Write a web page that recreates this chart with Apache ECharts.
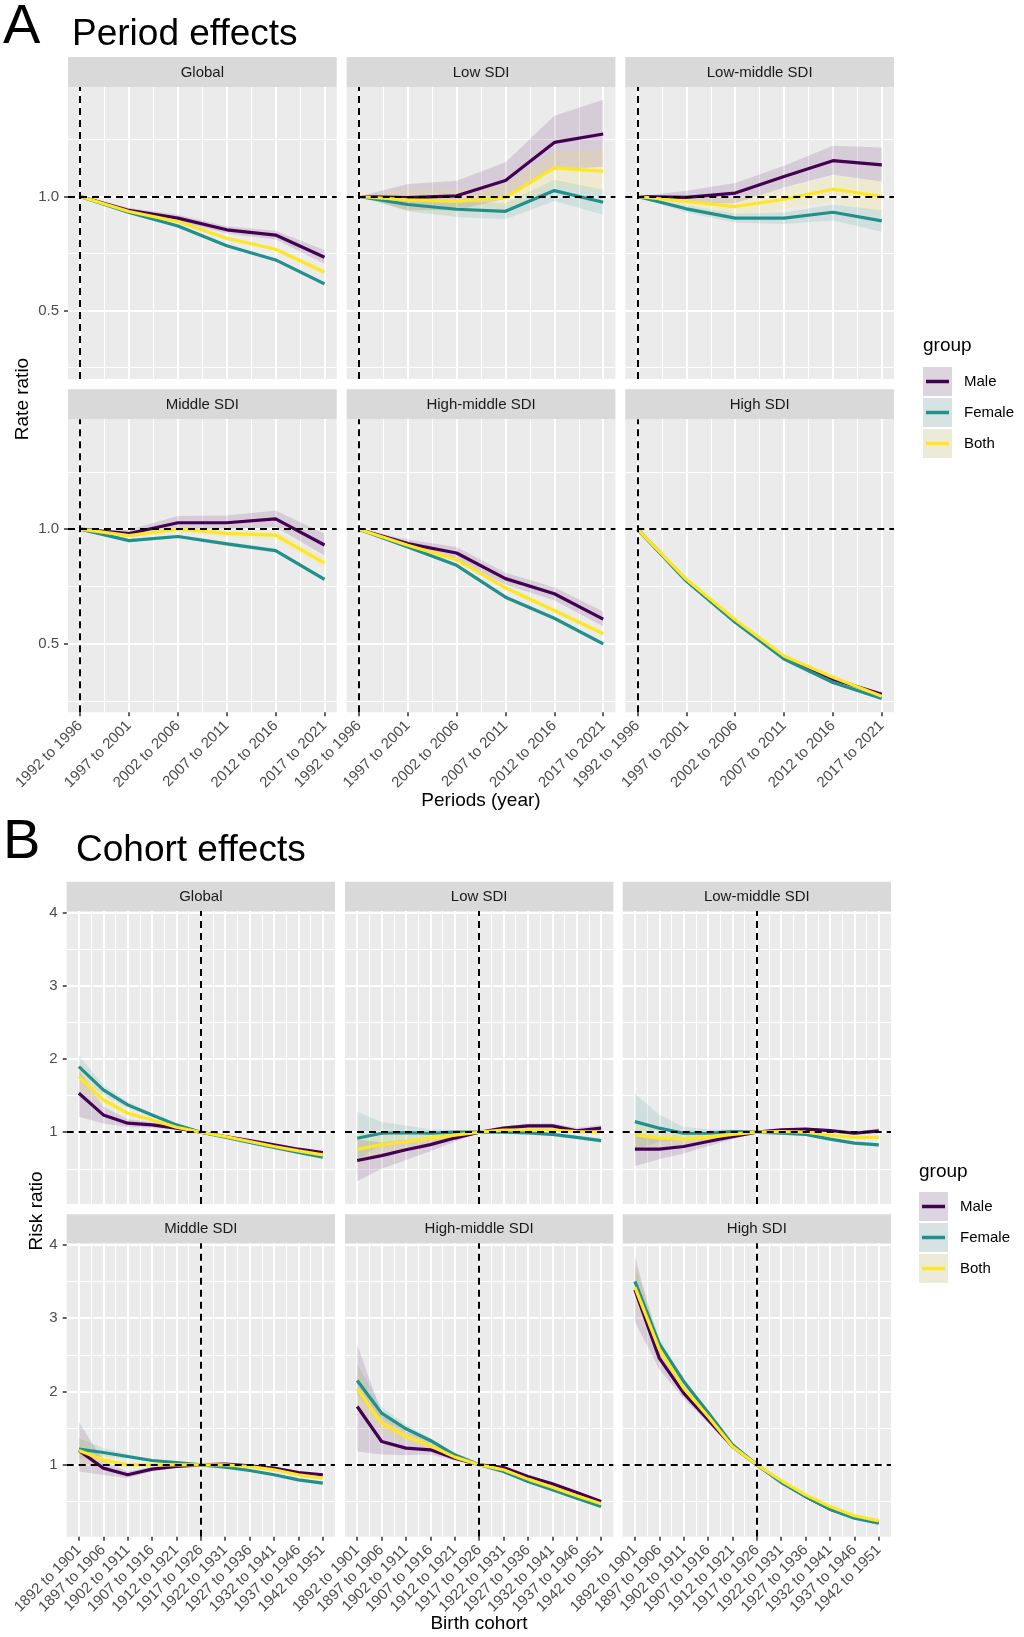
<!DOCTYPE html>
<html><head><meta charset="utf-8">
<script src="https://cdn.jsdelivr.net/npm/echarts@6/dist/echarts.min.js"></script>
<style>html,body{margin:0;padding:0;background:#fff;} #c{width:1024px;height:1637px;}</style>
</head><body><div id="c"></div>
<script>
// ---------- categories ----------
const periods = ['1992 to 1996','1997 to 2001','2002 to 2006','2007 to 2011','2012 to 2016','2017 to 2021'];
const cohorts = ['1892 to 1901','1897 to 1906','1902 to 1911','1907 to 1916','1912 to 1921','1917 to 1926',
                 '1922 to 1931','1927 to 1936','1932 to 1941','1937 to 1946','1942 to 1951'];
const panelNames = ['Global','Low SDI','Low-middle SDI','Middle SDI','High-middle SDI','High SDI'];
const groupNames = ['Male','Female','Both'];
const periodTickLabels = ['0.5','1.0'];
const cohortTickLabels = ['1','2','3','4'];

// ---------- Period effects (rate ratio) ----------
const p_Global_Male      = [1.0, 0.939, 0.905, 0.854, 0.831, 0.734];
const p_Global_Male_lo   = [1.0, 0.927, 0.890, 0.838, 0.812, 0.705];
const p_Global_Male_hi   = [1.0, 0.951, 0.920, 0.870, 0.850, 0.765];
const p_Global_Female    = [1.0, 0.930, 0.871, 0.784, 0.722, 0.617];
const p_Global_Female_lo = [1.0, 0.925, 0.865, 0.778, 0.715, 0.608];
const p_Global_Female_hi = [1.0, 0.935, 0.877, 0.790, 0.729, 0.626];
const p_Global_Both      = [1.0, 0.934, 0.890, 0.817, 0.769, 0.668];
const p_Global_Both_lo   = [1.0, 0.928, 0.883, 0.809, 0.760, 0.655];
const p_Global_Both_hi   = [1.0, 0.940, 0.897, 0.825, 0.778, 0.681];

const p_Low_Male      = [1.0, 0.995, 1.003, 1.070, 1.237, 1.274];
const p_Low_Male_lo   = [1.0, 0.940, 0.940, 0.990, 1.120, 1.130];
const p_Low_Male_hi   = [1.0, 1.055, 1.069, 1.150, 1.354, 1.424];
const p_Low_Female    = [1.0, 0.965, 0.944, 0.935, 1.026, 0.975];
const p_Low_Female_lo = [1.0, 0.935, 0.910, 0.900, 0.980, 0.920];
const p_Low_Female_hi = [1.0, 0.995, 0.978, 0.970, 1.073, 1.030];
const p_Low_Both      = [1.0, 0.985, 0.978, 0.995, 1.125, 1.111];
const p_Low_Both_lo   = [1.0, 0.935, 0.925, 0.935, 1.050, 1.020];
const p_Low_Both_hi   = [1.0, 1.035, 1.030, 1.055, 1.200, 1.200];

const p_LowMid_Male      = [1.0, 0.996, 1.015, 1.088, 1.157, 1.139];
const p_LowMid_Male_lo   = [1.0, 0.970, 0.970, 1.040, 1.095, 1.066];
const p_LowMid_Male_hi   = [1.0, 1.025, 1.059, 1.135, 1.222, 1.215];
const p_LowMid_Female    = [1.0, 0.946, 0.905, 0.905, 0.931, 0.893];
const p_LowMid_Female_lo = [1.0, 0.930, 0.885, 0.880, 0.895, 0.845];
const p_LowMid_Female_hi = [1.0, 0.962, 0.925, 0.930, 0.965, 0.940];
const p_LowMid_Both      = [1.0, 0.978, 0.956, 0.988, 1.032, 1.000];
const p_LowMid_Both_lo   = [1.0, 0.955, 0.920, 0.945, 0.975, 0.930];
const p_LowMid_Both_hi   = [1.0, 1.000, 0.995, 1.035, 1.090, 1.070];

const p_Mid_Male      = [1.0, 0.981, 1.028, 1.028, 1.045, 0.931];
const p_Mid_Male_lo   = [1.0, 0.965, 1.000, 0.998, 1.010, 0.885];
const p_Mid_Male_hi   = [1.0, 0.997, 1.058, 1.060, 1.082, 0.980];
const p_Mid_Female    = [1.0, 0.950, 0.968, 0.936, 0.906, 0.781];
const p_Mid_Female_lo = [1.0, 0.943, 0.960, 0.928, 0.897, 0.772];
const p_Mid_Female_hi = [1.0, 0.957, 0.976, 0.944, 0.915, 0.790];
const p_Mid_Both      = [1.0, 0.972, 1.000, 0.982, 0.974, 0.852];
const p_Mid_Both_lo   = [1.0, 0.962, 0.985, 0.965, 0.955, 0.830];
const p_Mid_Both_hi   = [1.0, 0.982, 1.015, 0.999, 0.993, 0.875];

const p_HighMid_Male      = [1.0, 0.937, 0.896, 0.784, 0.718, 0.607];
const p_HighMid_Male_lo   = [1.0, 0.920, 0.870, 0.757, 0.690, 0.575];
const p_HighMid_Male_hi   = [1.0, 0.955, 0.922, 0.810, 0.746, 0.640];
const p_HighMid_Female    = [1.0, 0.922, 0.842, 0.703, 0.611, 0.499];
const p_HighMid_Female_lo = [1.0, 0.916, 0.835, 0.695, 0.603, 0.490];
const p_HighMid_Female_hi = [1.0, 0.928, 0.849, 0.711, 0.619, 0.508];
const p_HighMid_Both      = [1.0, 0.930, 0.867, 0.744, 0.645, 0.543];
const p_HighMid_Both_lo   = [1.0, 0.922, 0.857, 0.733, 0.633, 0.530];
const p_HighMid_Both_hi   = [1.0, 0.938, 0.877, 0.755, 0.657, 0.556];

const p_High_Male      = [1.0, 0.776, 0.596, 0.440, 0.345, 0.279];
const p_High_Male_lo   = [1.0, 0.771, 0.591, 0.435, 0.340, 0.274];
const p_High_Male_hi   = [1.0, 0.781, 0.601, 0.445, 0.350, 0.284];
const p_High_Female    = [1.0, 0.773, 0.593, 0.433, 0.330, 0.260];
const p_High_Female_lo = [1.0, 0.769, 0.589, 0.429, 0.326, 0.256];
const p_High_Female_hi = [1.0, 0.777, 0.597, 0.437, 0.334, 0.264];
const p_High_Both      = [1.0, 0.781, 0.604, 0.446, 0.353, 0.270];
const p_High_Both_lo   = [1.0, 0.777, 0.600, 0.442, 0.349, 0.266];
const p_High_Both_hi   = [1.0, 0.785, 0.608, 0.450, 0.357, 0.274];

// ---------- Cohort effects (risk ratio) ----------
const c_Global_Male      = [1.532, 1.236, 1.123, 1.100, 1.055, 1.0, 0.941, 0.886, 0.827, 0.768, 0.723];
const c_Global_Male_lo   = [1.210, 1.120, 1.070, 1.065, 1.035, 1.0, 0.930, 0.873, 0.812, 0.752, 0.705];
const c_Global_Male_hi   = [1.850, 1.350, 1.180, 1.135, 1.075, 1.0, 0.952, 0.899, 0.842, 0.784, 0.741];
const c_Global_Female    = [1.895, 1.577, 1.373, 1.236, 1.100, 1.0, 0.932, 0.859, 0.791, 0.723, 0.659];
const c_Global_Female_lo = [1.740, 1.510, 1.330, 1.210, 1.085, 1.0, 0.925, 0.851, 0.782, 0.713, 0.648];
const c_Global_Female_hi = [2.050, 1.645, 1.415, 1.262, 1.115, 1.0, 0.939, 0.867, 0.800, 0.733, 0.670];
const c_Global_Both      = [1.759, 1.441, 1.259, 1.168, 1.068, 1.0, 0.941, 0.873, 0.805, 0.745, 0.691];
const c_Global_Both_lo   = [1.550, 1.360, 1.220, 1.145, 1.055, 1.0, 0.935, 0.866, 0.797, 0.736, 0.681];
const c_Global_Both_hi   = [1.970, 1.520, 1.300, 1.190, 1.081, 1.0, 0.947, 0.880, 0.813, 0.754, 0.701];

const c_Low_Male      = [0.614, 0.680, 0.760, 0.830, 0.920, 1.0, 1.055, 1.086, 1.086, 1.020, 1.055];
const c_Low_Male_lo   = [0.330, 0.500, 0.620, 0.740, 0.870, 1.0, 1.030, 1.055, 1.050, 0.980, 1.010];
const c_Low_Male_hi   = [0.900, 0.860, 0.900, 0.920, 0.970, 1.0, 1.080, 1.117, 1.122, 1.060, 1.100];
const c_Low_Female    = [0.918, 0.986, 0.995, 0.986, 1.000, 1.0, 1.000, 0.990, 0.970, 0.930, 0.886];
const c_Low_Female_lo = [0.620, 0.840, 0.900, 0.930, 0.970, 1.0, 0.985, 0.970, 0.948, 0.905, 0.858];
const c_Low_Female_hi = [1.280, 1.140, 1.090, 1.040, 1.030, 1.0, 1.015, 1.010, 0.992, 0.955, 0.914];
const c_Low_Both      = [0.768, 0.830, 0.870, 0.920, 0.960, 1.0, 1.030, 1.030, 1.030, 1.010, 1.000];
const c_Low_Both_lo   = [0.550, 0.700, 0.790, 0.870, 0.935, 1.0, 1.015, 1.010, 1.005, 0.980, 0.965];
const c_Low_Both_hi   = [0.990, 0.960, 0.950, 0.970, 0.985, 1.0, 1.045, 1.050, 1.055, 1.040, 1.035];

const c_LowMid_Male      = [0.768, 0.768, 0.805, 0.873, 0.940, 1.0, 1.032, 1.041, 1.023, 0.986, 1.018];
const c_LowMid_Male_lo   = [0.540, 0.630, 0.710, 0.810, 0.905, 1.0, 1.015, 1.020, 0.998, 0.958, 0.985];
const c_LowMid_Male_hi   = [1.000, 0.910, 0.900, 0.935, 0.975, 1.0, 1.049, 1.062, 1.048, 1.014, 1.051];
const c_LowMid_Female    = [1.145, 1.055, 0.986, 0.986, 1.010, 1.0, 0.986, 0.970, 0.905, 0.850, 0.827];
const c_LowMid_Female_lo = [0.760, 0.870, 0.900, 0.930, 0.980, 1.0, 0.975, 0.955, 0.888, 0.830, 0.805];
const c_LowMid_Female_hi = [1.530, 1.240, 1.070, 1.040, 1.040, 1.0, 0.997, 0.985, 0.922, 0.870, 0.849];
const c_LowMid_Both      = [0.964, 0.918, 0.905, 0.930, 0.970, 1.0, 1.010, 1.000, 0.960, 0.930, 0.930];
const c_LowMid_Both_lo   = [0.760, 0.810, 0.840, 0.890, 0.950, 1.0, 0.998, 0.985, 0.942, 0.910, 0.908];
const c_LowMid_Both_hi   = [1.170, 1.030, 0.970, 0.970, 0.990, 1.0, 1.022, 1.015, 0.978, 0.950, 0.952];

const c_Mid_Male      = [1.195, 0.955, 0.864, 0.941, 0.977, 1.0, 1.010, 0.986, 0.955, 0.895, 0.864];
const c_Mid_Male_lo   = [0.910, 0.860, 0.820, 0.910, 0.960, 1.0, 1.000, 0.975, 0.942, 0.880, 0.847];
const c_Mid_Male_hi   = [1.580, 1.060, 0.910, 0.970, 0.994, 1.0, 1.020, 0.997, 0.968, 0.910, 0.881];
const c_Mid_Female    = [1.214, 1.168, 1.114, 1.059, 1.032, 1.0, 0.968, 0.923, 0.864, 0.795, 0.750];
const c_Mid_Female_lo = [1.080, 1.110, 1.085, 1.040, 1.020, 1.0, 0.962, 0.916, 0.856, 0.786, 0.740];
const c_Mid_Female_hi = [1.360, 1.230, 1.145, 1.078, 1.044, 1.0, 0.974, 0.930, 0.872, 0.804, 0.760];
const c_Mid_Both      = [1.195, 1.068, 1.000, 1.000, 1.000, 1.0, 1.000, 0.977, 0.932, 0.864, 0.818];
const c_Mid_Both_lo   = [1.000, 1.000, 0.970, 0.980, 0.990, 1.0, 0.994, 0.970, 0.924, 0.855, 0.808];
const c_Mid_Both_hi   = [1.390, 1.140, 1.030, 1.020, 1.010, 1.0, 1.006, 0.984, 0.940, 0.873, 0.828];

const c_HighMid_Male      = [1.795, 1.318, 1.227, 1.205, 1.091, 1.0, 0.964, 0.841, 0.741, 0.623, 0.500];
const c_HighMid_Male_lo   = [1.180, 1.140, 1.130, 1.140, 1.060, 1.0, 0.952, 0.828, 0.727, 0.608, 0.485];
const c_HighMid_Male_hi   = [2.640, 1.700, 1.450, 1.320, 1.130, 1.0, 0.976, 0.854, 0.755, 0.638, 0.515];
const c_HighMid_Female    = [2.150, 1.705, 1.491, 1.332, 1.136, 1.0, 0.909, 0.773, 0.659, 0.545, 0.432];
const c_HighMid_Female_lo = [1.950, 1.620, 1.440, 1.300, 1.120, 1.0, 0.903, 0.766, 0.652, 0.537, 0.424];
const c_HighMid_Female_hi = [2.370, 1.790, 1.545, 1.365, 1.152, 1.0, 0.915, 0.780, 0.666, 0.553, 0.440];
const c_HighMid_Both      = [2.036, 1.568, 1.386, 1.259, 1.105, 1.0, 0.932, 0.805, 0.695, 0.577, 0.468];
const c_HighMid_Both_lo   = [1.780, 1.450, 1.320, 1.220, 1.085, 1.0, 0.926, 0.798, 0.688, 0.569, 0.460];
const c_HighMid_Both_hi   = [2.330, 1.690, 1.460, 1.300, 1.125, 1.0, 0.938, 0.812, 0.702, 0.585, 0.476];

const c_High_Male      = [3.386, 2.455, 1.977, 1.614, 1.250, 1.0, 0.773, 0.568, 0.395, 0.286, 0.218];
const c_High_Male_lo   = [2.950, 2.300, 1.900, 1.570, 1.230, 1.0, 0.765, 0.561, 0.390, 0.281, 0.213];
const c_High_Male_hi   = [3.850, 2.620, 2.060, 1.660, 1.270, 1.0, 0.781, 0.575, 0.400, 0.291, 0.223];
const c_High_Female    = [3.500, 2.650, 2.136, 1.714, 1.273, 1.0, 0.759, 0.568, 0.395, 0.273, 0.205];
const c_High_Female_lo = [3.300, 2.570, 2.090, 1.690, 1.260, 1.0, 0.754, 0.563, 0.391, 0.269, 0.201];
const c_High_Female_hi = [3.710, 2.730, 2.180, 1.740, 1.286, 1.0, 0.764, 0.573, 0.399, 0.277, 0.209];
const c_High_Both      = [3.423, 2.577, 2.045, 1.659, 1.250, 1.0, 0.786, 0.590, 0.432, 0.305, 0.236];
const c_High_Both_lo   = [3.150, 2.480, 2.000, 1.630, 1.235, 1.0, 0.781, 0.585, 0.428, 0.301, 0.232];
const c_High_Both_hi   = [3.720, 2.680, 2.090, 1.690, 1.265, 1.0, 0.791, 0.595, 0.436, 0.309, 0.240];

// ---------- lookup tables built from the arrays ----------
const periodSets = [
  {Male:[p_Global_Male,p_Global_Male_lo,p_Global_Male_hi],Female:[p_Global_Female,p_Global_Female_lo,p_Global_Female_hi],Both:[p_Global_Both,p_Global_Both_lo,p_Global_Both_hi]},
  {Male:[p_Low_Male,p_Low_Male_lo,p_Low_Male_hi],Female:[p_Low_Female,p_Low_Female_lo,p_Low_Female_hi],Both:[p_Low_Both,p_Low_Both_lo,p_Low_Both_hi]},
  {Male:[p_LowMid_Male,p_LowMid_Male_lo,p_LowMid_Male_hi],Female:[p_LowMid_Female,p_LowMid_Female_lo,p_LowMid_Female_hi],Both:[p_LowMid_Both,p_LowMid_Both_lo,p_LowMid_Both_hi]},
  {Male:[p_Mid_Male,p_Mid_Male_lo,p_Mid_Male_hi],Female:[p_Mid_Female,p_Mid_Female_lo,p_Mid_Female_hi],Both:[p_Mid_Both,p_Mid_Both_lo,p_Mid_Both_hi]},
  {Male:[p_HighMid_Male,p_HighMid_Male_lo,p_HighMid_Male_hi],Female:[p_HighMid_Female,p_HighMid_Female_lo,p_HighMid_Female_hi],Both:[p_HighMid_Both,p_HighMid_Both_lo,p_HighMid_Both_hi]},
  {Male:[p_High_Male,p_High_Male_lo,p_High_Male_hi],Female:[p_High_Female,p_High_Female_lo,p_High_Female_hi],Both:[p_High_Both,p_High_Both_lo,p_High_Both_hi]}
];
const cohortSets = [
  {Male:[c_Global_Male,c_Global_Male_lo,c_Global_Male_hi],Female:[c_Global_Female,c_Global_Female_lo,c_Global_Female_hi],Both:[c_Global_Both,c_Global_Both_lo,c_Global_Both_hi]},
  {Male:[c_Low_Male,c_Low_Male_lo,c_Low_Male_hi],Female:[c_Low_Female,c_Low_Female_lo,c_Low_Female_hi],Both:[c_Low_Both,c_Low_Both_lo,c_Low_Both_hi]},
  {Male:[c_LowMid_Male,c_LowMid_Male_lo,c_LowMid_Male_hi],Female:[c_LowMid_Female,c_LowMid_Female_lo,c_LowMid_Female_hi],Both:[c_LowMid_Both,c_LowMid_Both_lo,c_LowMid_Both_hi]},
  {Male:[c_Mid_Male,c_Mid_Male_lo,c_Mid_Male_hi],Female:[c_Mid_Female,c_Mid_Female_lo,c_Mid_Female_hi],Both:[c_Mid_Both,c_Mid_Both_lo,c_Mid_Both_hi]},
  {Male:[c_HighMid_Male,c_HighMid_Male_lo,c_HighMid_Male_hi],Female:[c_HighMid_Female,c_HighMid_Female_lo,c_HighMid_Female_hi],Both:[c_HighMid_Both,c_HighMid_Both_lo,c_HighMid_Both_hi]},
  {Male:[c_High_Male,c_High_Male_lo,c_High_Male_hi],Female:[c_High_Female,c_High_Female_lo,c_High_Female_hi],Both:[c_High_Both,c_High_Both_lo,c_High_Both_hi]}
];

// ---------- styling ----------
const FONT = "'Liberation Sans', Arial, Helvetica, sans-serif";
const LINE_COLORS = {Male:'#440154', Female:'#21908C', Both:'#FDE725'};
const KEY_FILL = {Male:'#dcd4df', Female:'#d6e3e2', Both:'#ecebd7'};
const PANEL_BG = '#ebebeb', STRIP_BG = '#d9d9d9';

const sections = [
  { cats: periods, sets: periodSets, ref: periods[0], spp: 4,
    lefts: [68, 346.7, 625.3], width: 268.7,
    rows: [{strip: 57, top: 87, h: 292}, {strip: 389.3, top: 419.3, h: 293}],
    ymin: 0.2, ymax: 1.48, ystep: 0.01, major: 0.5, minor: 0.25, tickLabels: periodTickLabels, digits: 1 },
  { cats: cohorts, sets: cohortSets, ref: cohorts[5], spp: 2,
    lefts: [66.7, 345, 622.7], width: 268.3,
    rows: [{strip: 881.7, top: 911, h: 293}, {strip: 1214.3, top: 1243.3, h: 293.4}],
    ymin: 0.02, ymax: 4.02, ystep: 0.02, major: 1, minor: 0.5, tickLabels: cohortTickLabels, digits: 0 }
];

function nearMultiple(v, step) { const r = v / step; return Math.abs(r - Math.round(r)) < 1e-6; }

const grids = [], xAxes = [], yAxes = [], series = [], graphics = [];

sections.forEach(sec => {
  const n = sec.cats.length, spp = sec.spp;
  const nSlots = (n - 1) * spp + 3;
  const isData = p => p >= 1 && (p - 1) % spp === 0 && (p - 1) / spp <= n - 1;
  const isMinorX = p => p >= 1 && p <= nSlots - 2 && (p - 1) % spp === spp / 2;
  const xSlots = [];
  for (let p = 0; p < nSlots; p++) xSlots.push(isData(p) ? sec.cats[(p - 1) / spp] : '_s' + p);
  const nY = Math.round((sec.ymax - sec.ymin) / sec.ystep) + 1;
  const yVals = [], ySlots = [];
  for (let i = 0; i < nY; i++) { const v = Math.round((sec.ymin + i * sec.ystep) * 1000) / 1000; yVals.push(v); ySlots.push(v.toFixed(3)); }
  const isMajorY = i => nearMultiple(yVals[i], sec.major) && sec.tickLabels.indexOf(yVals[i].toFixed(sec.digits)) >= 0;
  const isMinorY = i => nearMultiple(yVals[i], sec.minor) && !nearMultiple(yVals[i], sec.major);

  sec.rows.forEach((row, r) => {
    sec.lefts.forEach((left, c) => {
      const pi = r * 3 + c;
      const bottomRow = r === 1, leftCol = c === 0;
      // background grid carrying the gridlines, ticks and tick labels
      const gA = grids.length;
      grids.push({ left: left, top: row.top, width: sec.width, height: row.h, show: true,
        backgroundColor: PANEL_BG, borderWidth: 0, containLabel: false, outerBoundsMode: 'none' });
      xAxes.push({ type: 'category', gridIndex: gA, data: xSlots, boundaryGap: false, position: 'bottom',
        axisLine: { show: false },
        axisTick: { show: bottomRow, interval: (i) => isData(i), length: 4, lineStyle: { color: '#333333', width: 1.5 } },
        axisLabel: { show: bottomRow, interval: (i) => isData(i), rotate: 45, margin: 11, fontSize: 15,
                     color: '#4d4d4d', fontFamily: FONT },
        splitLine: { show: true, interval: (i) => isData(i), lineStyle: { color: '#ffffff', width: 2 } } });
      xAxes.push({ type: 'category', gridIndex: gA, data: xSlots, boundaryGap: false, position: 'top',
        axisLine: { show: false }, axisTick: { show: false }, axisLabel: { show: false },
        splitLine: { show: true, interval: (i) => isMinorX(i), lineStyle: { color: '#ffffff', width: 1 } } });
      yAxes.push({ type: 'category', gridIndex: gA, data: ySlots, boundaryGap: false, position: 'left',
        axisLine: { show: false },
        axisTick: { show: leftCol, interval: (i) => isMajorY(i), length: 4, lineStyle: { color: '#333333', width: 1.5 } },
        axisLabel: { show: leftCol, interval: (i) => isMajorY(i), margin: 9, fontSize: 15, color: '#4d4d4d',
                     fontFamily: FONT, formatter: (v) => Number(v).toFixed(sec.digits) },
        splitLine: { show: true, interval: (i) => isMajorY(i), lineStyle: { color: '#ffffff', width: 2 } } });
      yAxes.push({ type: 'category', gridIndex: gA, data: ySlots, boundaryGap: false, position: 'right',
        axisLine: { show: false }, axisTick: { show: false }, axisLabel: { show: false },
        splitLine: { show: true, interval: (i) => isMinorY(i), lineStyle: { color: '#ffffff', width: 1 } } });

      // data grid on top
      const gB = grids.length;
      grids.push({ left: left, top: row.top, width: sec.width, height: row.h, show: false,
        containLabel: false, outerBoundsMode: 'none' });
      const xb = xAxes.length;
      xAxes.push({ type: 'category', gridIndex: gB, data: xSlots, boundaryGap: false, show: false });
      const yb = yAxes.length;
      yAxes.push({ type: 'value', gridIndex: gB, min: sec.ymin, max: sec.ymax, show: false, scale: false });

      const set = sec.sets[pi];
      groupNames.forEach(g => {
        const [est, lo, hi] = set[g];
        const stackId = 'rib_' + gB + '_' + g;
        series.push({ type: 'line', xAxisIndex: xb, yAxisIndex: yb, stack: stackId, silent: true,
          symbol: 'none', lineStyle: { width: 0, opacity: 0 }, z: 2,
          data: sec.cats.map((cat, k) => [cat, lo[k]]) });
        series.push({ type: 'line', xAxisIndex: xb, yAxisIndex: yb, stack: stackId, silent: true,
          symbol: 'none', lineStyle: { width: 0, opacity: 0 }, z: 2,
          areaStyle: { color: LINE_COLORS[g], opacity: 0.13 },
          data: sec.cats.map((cat, k) => [cat, Math.round((hi[k] - lo[k]) * 10000) / 10000]) });
      });
      groupNames.forEach((g, gi) => {
        const est = set[g][0];
        const s = { type: 'line', xAxisIndex: xb, yAxisIndex: yb, name: g, symbol: 'none', z: 3,
          lineStyle: { color: LINE_COLORS[g], width: 3.2 }, itemStyle: { color: LINE_COLORS[g] },
          data: sec.cats.map((cat, k) => [cat, est[k]]) };
        if (gi === groupNames.length - 1) {
          s.markLine = { silent: true, symbol: ['none', 'none'], label: { show: false }, animation: false,
            lineStyle: { color: '#000000', type: [7, 5], width: 2 },
            data: [{ yAxis: 1 }, { xAxis: sec.ref }] };
        }
        series.push(s);
      });

      // facet strip
      graphics.push({ type: 'rect', shape: { x: left, y: row.strip, width: sec.width, height: row.top - row.strip },
        style: { fill: STRIP_BG }, silent: true });
      graphics.push({ type: 'text', x: left + sec.width / 2, y: (row.strip + row.top) / 2 + 0.5, silent: true,
        style: { text: panelNames[pi], font: '15px ' + FONT, fill: '#1a1a1a',
                 align: 'center', verticalAlign: 'middle', textAlign: 'center', textVerticalAlign: 'middle' } });
    });
  });
});

function txt(x, y, text, size, opts) {
  opts = opts || {};
  return Object.assign({ type: 'text', x: x, y: y, silent: true,
    style: { text: text, font: size + 'px ' + FONT, fill: opts.fill || '#000000',
             align: opts.align || 'left', verticalAlign: 'middle',
             textAlign: opts.align || 'left', textVerticalAlign: 'middle' } },
    opts.rotation ? { rotation: opts.rotation } : {});
}

// section titles
graphics.push(txt(3, 28, 'A', 56));
graphics.push(txt(72, 35, 'Period effects', 37));
graphics.push(txt(3, 843, 'B', 56));
graphics.push(txt(76, 851, 'Cohort effects', 37));
// axis titles
graphics.push(txt(23, 399, 'Rate ratio', 19, { align: 'center', rotation: Math.PI / 2 }));
graphics.push(txt(481, 801, 'Periods (year)', 19, { align: 'center' }));
graphics.push(txt(37, 1211, 'Risk ratio', 19, { align: 'center', rotation: Math.PI / 2 }));
graphics.push(txt(479, 1624, 'Birth cohort', 19, { align: 'center' }));

// legends
function legend(x, titleY, boxTop, textX) {
  graphics.push(txt(x, titleY, 'group', 19));
  groupNames.forEach((g, i) => {
    const y0 = boxTop + i * 31;
    graphics.push({ type: 'rect', shape: { x: x, y: y0, width: 29, height: 29 }, style: { fill: KEY_FILL[g] }, silent: true });
    graphics.push({ type: 'line', shape: { x1: x + 3, y1: y0 + 14.5, x2: x + 26, y2: y0 + 14.5 },
      style: { stroke: LINE_COLORS[g], lineWidth: 3.5 }, silent: true });
    graphics.push(txt(textX, y0 + 14.5, g, 15));
  });
}
legend(923, 346, 367, 964);
legend(919, 1172, 1192, 960);

const chart = echarts.init(document.getElementById('c'), null, { renderer: 'canvas', width: 1024, height: 1637 });
chart.setOption({
  animation: false,
  backgroundColor: '#ffffff',
  textStyle: { fontFamily: FONT },
  grid: grids, xAxis: xAxes, yAxis: yAxes, series: series,
  graphic: { elements: graphics }
});
</script></body></html>
